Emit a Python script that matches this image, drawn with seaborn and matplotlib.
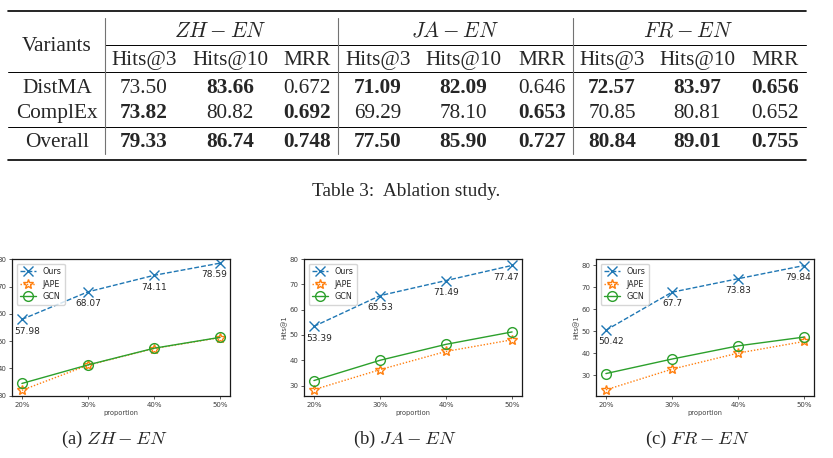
import numpy as np
import pandas as pd
import matplotlib
matplotlib.use("Agg")
import matplotlib.pyplot as plt
import seaborn as sns

# ---------------- data ----------------
variants = ["DistMA", "ComplEx", "Overall"]
metrics = ["Hits@3", "Hits@10", "MRR"]
pair_labels = [r"$ZH-EN$", r"$JA-EN$", r"$FR-EN$"]
zh_table = [[73.50, 83.66, 0.672], [73.82, 80.82, 0.692], [79.33, 86.74, 0.748]]
ja_table = [[71.09, 82.09, 0.646], [69.29, 78.10, 0.653], [77.50, 85.90, 0.727]]
fr_table = [[72.57, 83.97, 0.656], [70.85, 80.81, 0.652], [80.84, 89.01, 0.755]]

proportions = ["20%", "30%", "40%", "50%"]
methods = ["Ours", "JAPE", "GCN"]
zh_ours = [57.98, 68.07, 74.11, 78.59]
zh_jape = [32.0, 41.2, 47.3, 51.3]
zh_gcn = [34.5, 41.3, 47.4, 51.4]
ja_ours = [53.39, 65.53, 71.49, 77.47]
ja_jape = [28.4, 36.3, 43.5, 48.1]
ja_gcn = [32.0, 40.0, 46.3, 51.2]
fr_ours = [50.42, 67.7, 73.83, 79.84]
fr_jape = [23.3, 32.7, 40.0, 45.3]
fr_gcn = [30.7, 37.3, 43.3, 47.3]
subcaptions = [r"(a) $ZH-EN$", r"(b) $JA-EN$", r"(c) $FR-EN$"]

# ---------------- style ----------------
sns.set_style("ticks")
plt.rcParams["font.family"] = ["DejaVu Sans"]
plt.rcParams["mathtext.fontset"] = "cm"

W, H = 833, 458
fig = plt.figure(figsize=(W / 100, H / 100), dpi=100)

# overlay for table and captions in pixel coordinates
ax0 = fig.add_axes([0, 0, 1, 1], zorder=0)
ax0.set_xlim(0, W)
ax0.set_ylim(H, 0)
ax0.axis("off")

serif = "Liberation Serif"
tfs = 15.3
L, R = 8, 806
# rules
ax0.plot([L, R], [11, 11], color="k", lw=1.2)
ax0.plot([105, R], [45, 45], color="k", lw=0.7)
ax0.plot([L, R], [72, 72], color="k", lw=0.7)
ax0.plot([L, R], [127, 127], color="k", lw=0.7)
ax0.plot([L, R], [159.5, 159.5], color="k", lw=1.2)
for vx in [105, 338, 573]:
    ax0.plot([vx, vx], [18, 154], color="0.45", lw=0.8)

ax0.text(57, 50.7, "Variants", family=serif, fontsize=tfs, ha="center", va="baseline")
group_x = [220, 455, 688]
col_x = [[144, 230, 307], [378, 463, 542], [612, 697, 775]]
row_y = [92.7, 118.3, 147.3]
tables = [zh_table, ja_table, fr_table]
for gi, (lab, tab) in enumerate(zip(pair_labels, tables)):
    ax0.text(group_x[gi], 36.7, lab, fontsize=tfs, ha="center", va="baseline")
    for ci, m in enumerate(metrics):
        ax0.text(col_x[gi][ci], 65, m, family=serif, fontsize=tfs, ha="center", va="baseline")
    arr = np.array(tab)
    for ri, vname in enumerate(variants):
        for ci in range(3):
            v = arr[ri, ci]
            if ri == 2:
                bold = True
            else:
                bold = v == arr[:2, ci].max()
            s = f"{v:.3f}" if ci == 2 else f"{v:.2f}"
            ax0.text(col_x[gi][ci], row_y[ri], s, family=serif, fontsize=tfs,
                     fontweight="bold" if bold else "normal", ha="center", va="baseline")
for ri, vname in enumerate(variants):
    ax0.text(57, row_y[ri], vname, family=serif, fontsize=tfs, ha="center", va="baseline")

ax0.text(406, 196, "Table 3:  Ablation study.", family=serif, fontsize=13.9,
         ha="center", va="baseline")

# ---------------- line plots ----------------
axes_px = [(12, 230), (304, 522), (596, 814)]
top, bottom = 259, 396
ylims = [(29.9, 80.1), (25.9, 80.0), (20.5, 82.8)]
series = [(zh_ours, zh_jape, zh_gcn), (ja_ours, ja_jape, ja_gcn), (fr_ours, fr_jape, fr_gcn)]
caption_x = [114, 405, 697]
colors = {"Ours": "#1f77b4", "JAPE": "#ff7f0e", "GCN": "#2ca02c"}
markers = {"Ours": "x", "JAPE": "*", "GCN": "o"}
lstyles = {"Ours": (0, (3.5, 1.5)), "JAPE": (0, (1, 1.3)), "GCN": "-"}
msizes = {"Ours": 7, "JAPE": 7, "GCN": 7}
label_dx = [4, 0, 0, -4]

for i, ((x0, x1), yl, vals) in enumerate(zip(axes_px, ylims, series)):
    ax = fig.add_axes([x0 / W, (H - bottom) / H, (x1 - x0) / W, (bottom - top) / H], zorder=2)
    for m, v in zip(methods, vals):
        sns.lineplot(x=proportions, y=v, ax=ax, color=colors[m], marker=markers[m],
                     linestyle=lstyles[m], lw=1.0, markersize=msizes[m],
                     markeredgecolor=colors[m], markerfacecolor="none",
                     markeredgewidth=1.0, label=m)
    ours = vals[0]
    for j, v in enumerate(ours):
        ax.annotate(f"{v:g}", (j, v), xytext=(label_dx[j], -8.4), textcoords="offset points",
                    ha="center", va="center", fontsize=6.5, color="0.15")
    ax.set_xlim(-0.15, 3.15)
    ax.set_ylim(*yl)
    ax.set_yticks([30, 40, 50, 60, 70, 80])
    ax.tick_params(labelsize=5.0, length=2.5, width=0.6, pad=1.5, colors="0.25")
    ax.set_xlabel("proportion", fontsize=4.8, labelpad=1.5, color="0.25")
    ax.set_ylabel("Hits@1", fontsize=4.8, labelpad=1.5, color="0.25")
    for sp in ax.spines.values():
        sp.set_linewidth(0.9)
        sp.set_color("0.1")
    ax.legend(loc="upper left", fontsize=5.8, frameon=True, borderaxespad=0.6,
              handlelength=2.0, labelspacing=0.45, borderpad=0.4)
    ax0.text(caption_x[i], 444, subcaptions[i], family=serif, fontsize=13.4,
             ha="center", va="baseline")

fig.savefig("out.png", dpi=100)
